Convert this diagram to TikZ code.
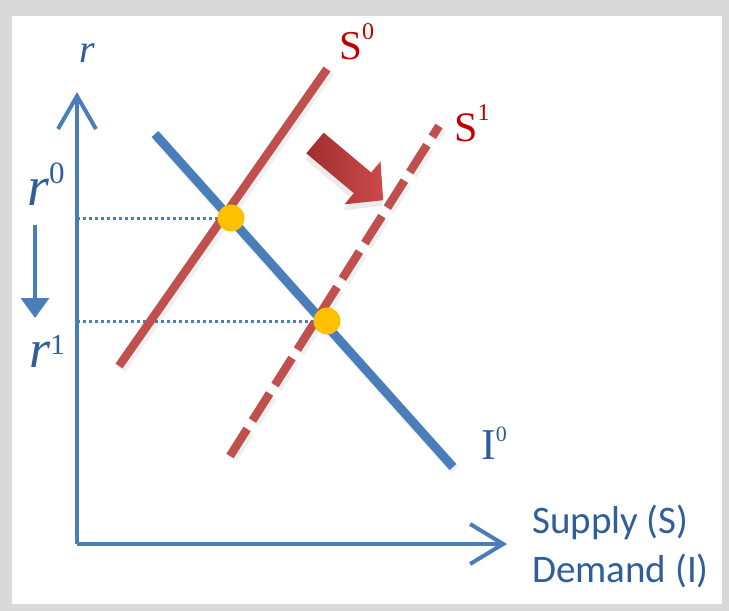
\documentclass[tikz,border=0pt]{standalone}
\usepackage{fontspec}
\setmainfont{Liberation Serif}
\newfontfamily\calibri{Carlito}
\usetikzlibrary{arrows.meta,positioning,calc}
\definecolor{axisblue}{HTML}{4A7EBB}
\definecolor{curvered}{HTML}{C0504D}
\definecolor{labred}{HTML}{C00000}
\definecolor{labblue}{HTML}{2F5E9A}
\definecolor{eqyellow}{HTML}{FFC000}
\definecolor{framegray}{HTML}{D9D9D9}
\definecolor{arrowred}{HTML}{C83A3A}
% label with raised index: base, index, index size, raise
\newcommand{\idx}[4]{#1\raisebox{#4}{\fontsize{#3}{#3}\selectfont #2}}

\begin{document}
\begin{tikzpicture}[
  x=1pt, y=-1pt,
  curve/.style={line width=8.5pt},
  shadowed/.style={black, opacity=.06, line width=11pt, transform canvas={shift={(2pt,-3pt)}}},
  guide/.style={draw=axisblue, line width=3pt, dash pattern=on 3pt off 3pt},
  eq/.style={circle, fill=eqyellow, minimum size=27pt, inner sep=0pt},
  lab/.style={inner sep=0pt, anchor=base west}
]
% frame
\useasboundingbox (0,0) rectangle (729,611);
\fill[framegray] (0,0) rectangle (729,611);
\fill[white] (12,16) rectangle (722,604);

% axes
\coordinate (origin) at (77,544);
\coordinate (ytop) at (77,92);
\coordinate (xend) at (507,544);
\draw[draw=axisblue, line width=4pt, -{Straight Barb[length=33pt,width=38pt,line width=4pt]}] (origin) -- (ytop);
\draw[draw=axisblue, line width=4pt, -{Straight Barb[length=33pt,width=40pt,line width=4pt]}] (origin) -- (xend);

% curve end points
\coordinate (i0a) at (155,134);
\coordinate (i0b) at (453,467);
\coordinate (s0a) at (119,366);
\coordinate (s0b) at (327,69);
\coordinate (s1a) at (230,456);
\coordinate (s1b) at (439,126);

% equilibria
\coordinate (e0) at (231,218);
\coordinate (e1) at (327,321);

% guides to the r axis
\draw[guide] (origin |- e0) -- (e0);
\draw[guide] (origin |- e1) -- (e1);

% shadows
\draw[shadowed] (i0a) -- (i0b);
\draw[shadowed] (s0a) -- (s0b);
\draw[shadowed, dash pattern=on 32pt off 10pt] (s1a) -- (s1b);

% curves
\draw[curve, axisblue, line width=9pt] (i0a) -- (i0b);
\draw[curve, curvered] (s0a) -- (s0b);
\draw[curve, curvered, dash pattern=on 32pt off 10pt] (s1a) -- (s1b);

\node[eq] (eqa) at (e0) {};
\node[eq] (eqb) at (e1) {};

% shift of supply
\begin{scope}[shift={(315,143)}, rotate=-40]
  \fill[black, opacity=.08] (3,-9) -- (65,-9) -- (65,-23) -- (92,5) -- (65,33) -- (65,19) -- (3,19) -- cycle;
  \shade[left color=arrowred!80!black, right color=arrowred!92!white]
    (0,-13.5) -- (62,-13.5) -- (62,-28) -- (89,0) -- (62,28) -- (62,13.5) -- (0,13.5) -- cycle;
\end{scope}

% labels
\node[lab, labblue, font=\fontsize{40}{40}\selectfont\itshape] (rlab) at (79,62) {r};
\node[lab, labblue, font=\fontsize{56}{56}\selectfont] (r0lab) at (27,205) {\idx{\textit{r}}{0}{31}{.38em}};
\node[lab, labblue, font=\fontsize{54}{54}\selectfont] (r1lab) at (29,367) {\idx{\textit{r}}{1}{29}{.24em}};
\node[lab, labred, font=\fontsize{41}{41}\selectfont] (s0lab) at (339,59) {\idx{S}{0}{24}{.48em}};
\node[lab, labred, font=\fontsize{42}{42}\selectfont] (s1lab) at (454,141) {\idx{S}{1}{24}{.5em}};
\node[lab, labblue, font=\fontsize{44}{44}\selectfont] (i0lab) at (481,459) {\idx{I}{0}{22}{.39em}};
\node[lab, labblue, align=left, font=\calibri\fontsize{39}{49}\selectfont] (xlab) at (532,582) {Supply (S)\\Demand (I)};

% fall of the rate
\coordinate (dtop) at (35,225);
\coordinate (dbot) at (35,318);
\draw[axisblue, line width=3.5pt, -{Triangle[length=20pt,width=28pt]}] (dtop) -- (dbot);
\end{tikzpicture}
\end{document}
